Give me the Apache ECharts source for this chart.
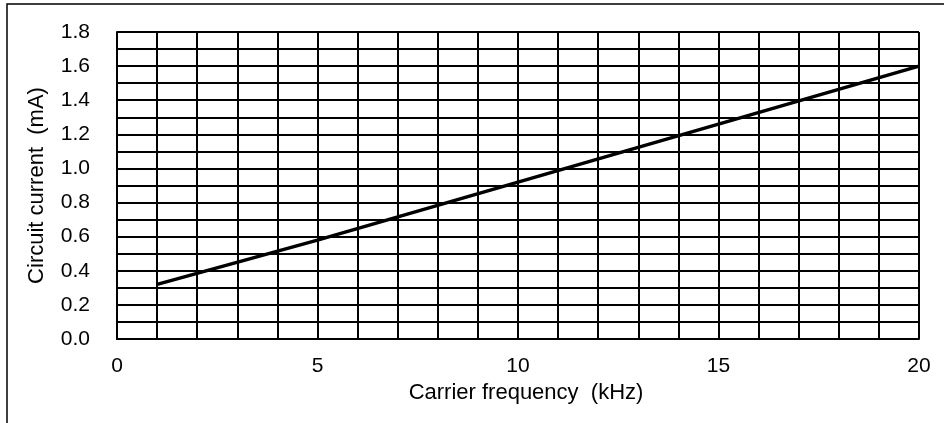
<!DOCTYPE html>
<html>
<head>
<meta charset="utf-8">
<script src="https://cdn.jsdelivr.net/npm/echarts@6/dist/echarts.min.js"></script>
<style>
html,body{margin:0;padding:0;background:#fff;}
#chart{width:944px;height:423px;}
</style>
</head>
<body>
<div id="chart"></div>
<script>
// Data
var frequencyKHz = [1, 5, 10, 15, 20];
var currentMA = [0.32, 0.58, 0.92, 1.26, 1.60];
var xTickLabels = [0, 5, 10, 15, 20];
var yTickLabels = [0.0, 0.2, 0.4, 0.6, 0.8, 1.0, 1.2, 1.4, 1.6, 1.8];
var xTitle = 'Carrier frequency  (kHz)';
var yTitle = 'Circuit current  (mA)';

var chart = echarts.init(document.getElementById('chart'), null, {renderer: 'canvas'});
var font = 'Liberation Sans, Arial, sans-serif';
var seriesData = frequencyKHz.map(function (f, i) { return [f, currentMA[i]]; });

chart.setOption({
  animation: false,
  backgroundColor: '#fff',
  graphic: [{
    type: 'rect',
    shape: {x: 7, y: 4, width: 1200, height: 1200},
    style: {fill: 'none', stroke: '#000', lineWidth: 1.5},
    silent: true, z: 0
  }],
  grid: {left: 117, right: 25, top: 32, bottom: 84, containLabel: false},
  xAxis: {
    type: 'value', min: 0, max: 20, interval: 1,
    name: xTitle, nameLocation: 'middle', nameGap: 42,
    nameTextStyle: {fontFamily: font, fontSize: 22, color: '#000', padding: [0, 0, 0, 16]},
    axisLine: {show: true, onZero: false, lineStyle: {color: '#000', width: 2}},
    axisTick: {show: false},
    axisLabel: {
      fontFamily: font, fontSize: 21, color: '#000', margin: 17,
      formatter: function (v) { return xTickLabels.indexOf(v) >= 0 ? String(v) : ''; }
    },
    splitLine: {show: true, lineStyle: {color: '#000', width: 2}}
  },
  yAxis: {
    type: 'value', min: 0, max: 1.8, interval: 0.1,
    name: yTitle, nameLocation: 'middle', nameGap: 69, nameRotate: 90,
    nameTextStyle: {fontFamily: font, fontSize: 22, color: '#000'},
    axisLine: {show: true, lineStyle: {color: '#000', width: 2}},
    axisTick: {show: false},
    axisLabel: {
      fontFamily: font, fontSize: 21, color: '#000', margin: 27,
      formatter: function (v) {
        var r = Math.round(v * 10) / 10;
        for (var i = 0; i < yTickLabels.length; i++) {
          if (Math.abs(yTickLabels[i] - r) < 1e-6) return yTickLabels[i].toFixed(1);
        }
        return '';
      }
    },
    splitLine: {show: true, lineStyle: {color: '#000', width: 2}}
  },
  series: [{
    type: 'line',
    data: seriesData,
    showSymbol: false,
    symbol: 'none',
    lineStyle: {color: '#000', width: 3.5},
    z: 5
  }]
});
</script>
</body>
</html>
